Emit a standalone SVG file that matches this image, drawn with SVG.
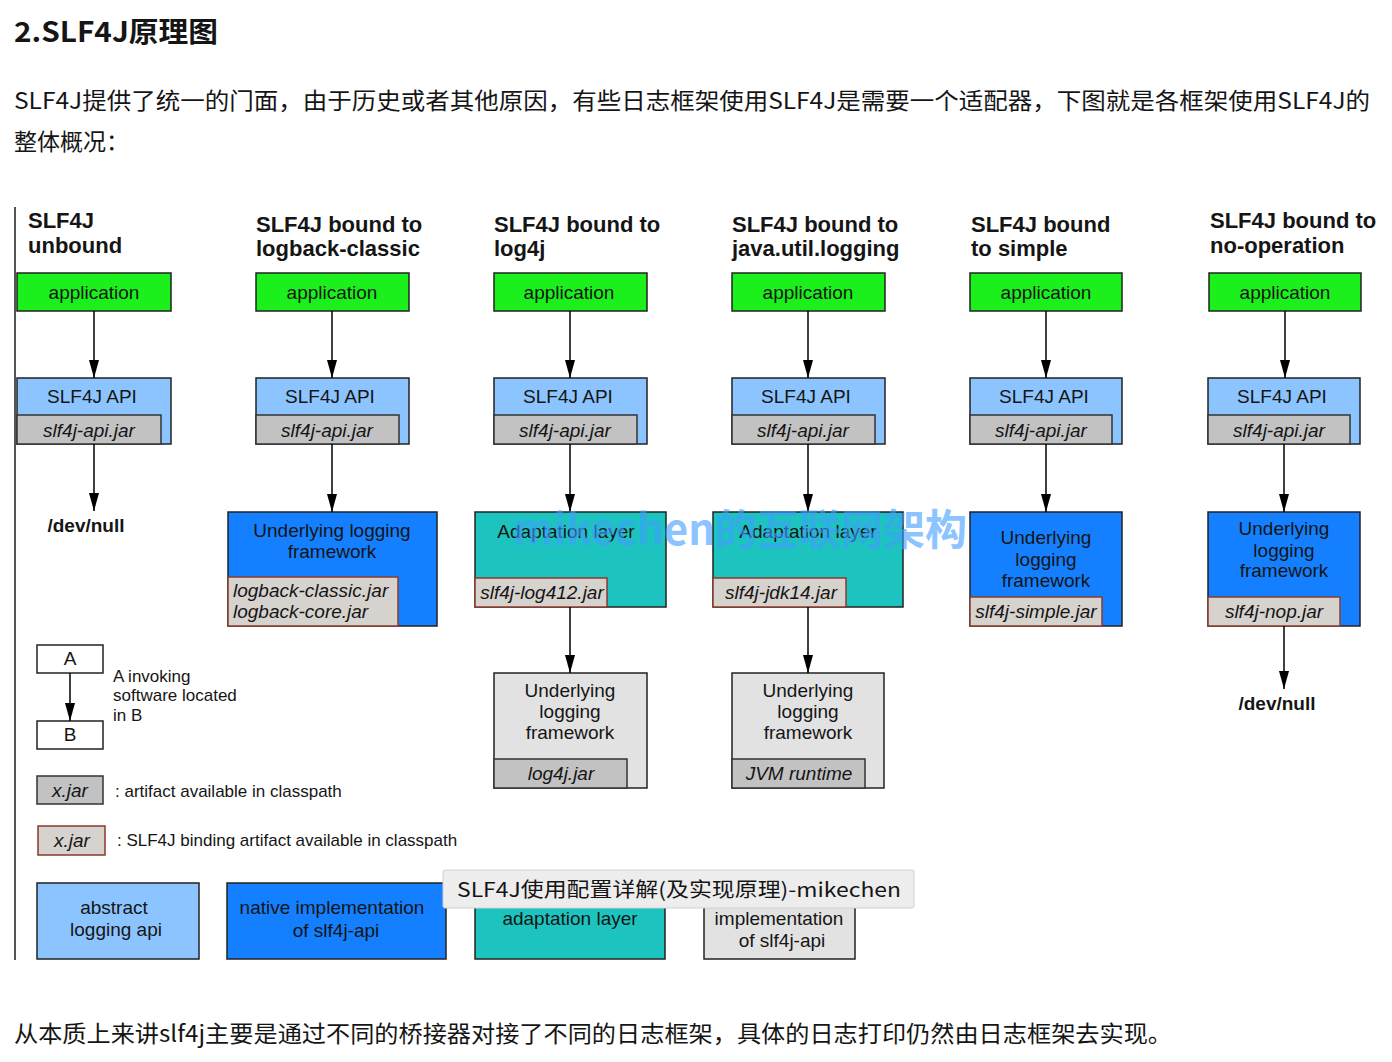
<svg xmlns="http://www.w3.org/2000/svg" width="1392" height="1062" viewBox="0 0 1392 1062">
<defs>
<marker id="ah" viewBox="0 0 18 10" markerWidth="18" markerHeight="10" refX="18" refY="5" orient="auto" markerUnits="userSpaceOnUse">
<path d="M0,0 L18,5 L0,10 z" fill="#000"/>
</marker>
<style>
text{font-family:"Liberation Sans","Noto Sans CJK SC",Arial,sans-serif;fill:#151515}
.cjk{font-family:"Noto Sans CJK SC","Liberation Sans",sans-serif}
.hd{font-size:22px;font-weight:bold}
.t{font-size:19px;text-anchor:middle}
.j{font-size:19px;font-style:italic;text-anchor:middle}
.jl{font-size:19px;font-style:italic}
.lg{font-size:17px}
.box{stroke:#222;stroke-width:1.5}
.app{fill:#1cf01c}
.api{fill:#8cc4ff}
.blue{fill:#1480ff}
.teal{fill:#1dc4bf}
.gray{fill:#e2e2e2}
.jar{fill:#c2c2c2;stroke:#333;stroke-width:1.5}
.bjar{fill:#d6d2ce;stroke:#8a3a2c;stroke-width:1.5}
.dn{font-size:19px;font-weight:bold;text-anchor:middle}
.ln{stroke:#000;stroke-width:1.5;fill:none;marker-end:url(#ah)}
.wm{font-family:"Noto Sans CJK SC","Liberation Sans",sans-serif;font-size:42px;font-weight:bold;fill:#3f9dff;opacity:0.6}
</style>
</defs>
<rect width="1392" height="1062" fill="#fff"/>

<text class="cjk" x="14" y="42" font-size="28" font-weight="bold" textLength="204" lengthAdjust="spacingAndGlyphs">2.SLF4J原理图</text>
<text class="cjk" x="14" y="109" font-size="23" textLength="1356" lengthAdjust="spacingAndGlyphs">SLF4J提供了统一的门面，由于历史或者其他原因，有些日志框架使用SLF4J是需要一个适配器，下图就是各框架使用SLF4J的</text>
<text class="cjk" x="14" y="150" font-size="23">整体概况：</text>

<line x1="15" y1="207" x2="15" y2="960" stroke="#555" stroke-width="2"/>

<!-- headers -->
<g id="headers">
<text class="hd" x="28" y="228">SLF4J</text>
<text class="hd" x="28" y="253">unbound</text>
<text class="hd" x="256" y="232">SLF4J bound to</text>
<text class="hd" x="256" y="256">logback-classic</text>
<text class="hd" x="494" y="232">SLF4J bound to</text>
<text class="hd" x="494" y="256">log4j</text>
<text class="hd" x="732" y="232">SLF4J bound to</text>
<text class="hd" x="732" y="256">java.util.logging</text>
<text class="hd" x="971" y="232">SLF4J bound</text>
<text class="hd" x="971" y="256">to simple</text>
<text class="hd" x="1210" y="228">SLF4J bound to</text>
<text class="hd" x="1210" y="253">no-operation</text>
</g>

<!-- column 1 -->
<g id="c1-app"><rect class="box app" x="17" y="273" width="154" height="38"/><text class="t" x="94" y="299">application</text></g>
<g id="c1-api"><rect class="box api" x="17" y="378" width="154" height="66"/><text class="t" x="92" y="403">SLF4J API</text><rect class="jar" x="17" y="415" width="144" height="29"/><text class="j" x="89" y="437">slf4j-api.jar</text></g>
<g id="c1-null"><text class="dn" x="86" y="532">/dev/null</text></g>

<!-- column 2 -->
<g id="c2-app"><rect class="box app" x="256" y="273" width="153" height="38"/><text class="t" x="332" y="299">application</text></g>
<g id="c2-api"><rect class="box api" x="256" y="378" width="153" height="66"/><text class="t" x="330" y="403">SLF4J API</text><rect class="jar" x="256" y="415" width="143" height="29"/><text class="j" x="327" y="437">slf4j-api.jar</text></g>
<g id="c2-fw"><rect class="box blue" x="228" y="512" width="209" height="114"/><text class="t" x="332" y="537">Underlying logging</text><text class="t" x="332" y="558">framework</text><rect class="bjar" x="228" y="577" width="170" height="49"/><text class="jl" x="233" y="597">logback-classic.jar</text><text class="jl" x="233" y="618">logback-core.jar</text></g>

<!-- column 3 -->
<g id="c3-app"><rect class="box app" x="494" y="273" width="153" height="38"/><text class="t" x="569" y="299">application</text></g>
<g id="c3-api"><rect class="box api" x="494" y="378" width="153" height="66"/><text class="t" x="568" y="403">SLF4J API</text><rect class="jar" x="494" y="415" width="143" height="29"/><text class="j" x="565" y="437">slf4j-api.jar</text></g>
<g id="c3-adapt"><rect class="box teal" x="475" y="512" width="191" height="95"/><text class="t" x="566" y="538">Adaptation layer</text><rect class="bjar" x="475" y="578" width="132" height="29"/><text class="j" x="542" y="599">slf4j-log412.jar</text></g>
<g id="c3-fw"><rect class="box gray" x="494" y="673" width="153" height="115"/><text class="t" x="570" y="697">Underlying</text><text class="t" x="570" y="718">logging</text><text class="t" x="570" y="739">framework</text><rect class="jar" x="494" y="759" width="133" height="29" fill="#b8b8b8"/><text class="j" x="561" y="780">log4j.jar</text></g>

<!-- column 4 -->
<g id="c4-app"><rect class="box app" x="732" y="273" width="153" height="38"/><text class="t" x="808" y="299">application</text></g>
<g id="c4-api"><rect class="box api" x="732" y="378" width="153" height="66"/><text class="t" x="806" y="403">SLF4J API</text><rect class="jar" x="732" y="415" width="143" height="29"/><text class="j" x="803" y="437">slf4j-api.jar</text></g>
<g id="c4-adapt"><rect class="box teal" x="713" y="512" width="190" height="95"/><text class="t" x="808" y="538">Adaptation layer</text><rect class="bjar" x="713" y="578" width="133" height="29"/><text class="j" x="781" y="599">slf4j-jdk14.jar</text></g>
<g id="c4-fw"><rect class="box gray" x="732" y="673" width="152" height="115"/><text class="t" x="808" y="697">Underlying</text><text class="t" x="808" y="718">logging</text><text class="t" x="808" y="739">framework</text><rect class="jar" x="732" y="759" width="133" height="29" fill="#b8b8b8"/><text class="j" x="799" y="780">JVM runtime</text></g>

<!-- column 5 -->
<g id="c5-app"><rect class="box app" x="970" y="273" width="152" height="38"/><text class="t" x="1046" y="299">application</text></g>
<g id="c5-api"><rect class="box api" x="970" y="378" width="152" height="66"/><text class="t" x="1044" y="403">SLF4J API</text><rect class="jar" x="970" y="415" width="142" height="29"/><text class="j" x="1041" y="437">slf4j-api.jar</text></g>
<g id="c5-fw"><rect class="box blue" x="970" y="512" width="152" height="114"/><text class="t" x="1046" y="544">Underlying</text><text class="t" x="1046" y="566">logging</text><text class="t" x="1046" y="587">framework</text><rect class="bjar" x="970" y="597" width="132" height="29"/><text class="j" x="1036" y="618">slf4j-simple.jar</text></g>

<!-- column 6 -->
<g id="c6-app"><rect class="box app" x="1209" y="273" width="152" height="38"/><text class="t" x="1285" y="299">application</text></g>
<g id="c6-api"><rect class="box api" x="1208" y="378" width="152" height="66"/><text class="t" x="1282" y="403">SLF4J API</text><rect class="jar" x="1208" y="415" width="142" height="29"/><text class="j" x="1279" y="437">slf4j-api.jar</text></g>
<g id="c6-fw"><rect class="box blue" x="1208" y="512" width="152" height="114"/><text class="t" x="1284" y="535">Underlying</text><text class="t" x="1284" y="557">logging</text><text class="t" x="1284" y="577">framework</text><rect class="bjar" x="1208" y="597" width="132" height="29"/><text class="j" x="1274" y="618">slf4j-nop.jar</text></g>
<g id="c6-null"><text class="dn" x="1277" y="710">/dev/null</text></g>

<!-- legend -->
<g id="legend-a"><rect x="37" y="645" width="66" height="28" fill="#fff" stroke="#222" stroke-width="1.5"/><text class="t" x="70" y="665">A</text></g>
<g id="legend-b"><rect x="37" y="721" width="66" height="28" fill="#fff" stroke="#222" stroke-width="1.5"/><text class="t" x="70" y="741">B</text></g>
<g id="legend-text"><text class="lg" x="113" y="682">A invoking</text><text class="lg" x="113" y="701">software located</text><text class="lg" x="113" y="721">in B</text></g>
<g id="legend-jar"><rect class="jar" x="37" y="776" width="66" height="28" fill="#b4b4b4"/><text class="j" x="70" y="797">x.jar</text><text class="lg" x="115" y="797">: artifact available in classpath</text></g>
<g id="legend-bjar"><rect class="bjar" x="38" y="826" width="67" height="29" fill="#b8b8b8"/><text class="j" x="72" y="847">x.jar</text><text class="lg" x="117" y="846">: SLF4J binding artifact available in classpath</text></g>

<!-- bottom key -->
<g id="key-abstract"><rect class="box api" x="37" y="883" width="162" height="76"/><text class="t" x="114" y="914">abstract</text><text class="t" x="116" y="936">logging api</text></g>
<g id="key-native"><rect class="box blue" x="227" y="883" width="219" height="76"/><text class="t" x="332" y="914">native implementation</text><text class="t" x="336" y="937">of slf4j-api</text></g>
<g id="key-adapt"><rect class="box teal" x="475" y="883" width="190" height="76"/><text class="t" x="570" y="925">adaptation layer</text></g>
<g id="key-impl"><rect class="box gray" x="704" y="883" width="151" height="76"/><text class="t" x="779" y="925">implementation</text><text class="t" x="782" y="947">of slf4j-api</text></g>

<!-- connectors -->
<g id="connectors">
<line class="ln" x1="94" y1="311" x2="94" y2="378"/>
<line class="ln" x1="94" y1="444" x2="94" y2="511"/>
<line class="ln" x1="332" y1="311" x2="332" y2="378"/>
<line class="ln" x1="332" y1="444" x2="332" y2="512"/>
<line class="ln" x1="570" y1="311" x2="570" y2="378"/>
<line class="ln" x1="570" y1="444" x2="570" y2="512"/>
<line class="ln" x1="570" y1="607" x2="570" y2="673"/>
<line class="ln" x1="808" y1="311" x2="808" y2="378"/>
<line class="ln" x1="808" y1="444" x2="808" y2="512"/>
<line class="ln" x1="808" y1="607" x2="808" y2="673"/>
<line class="ln" x1="1046" y1="311" x2="1046" y2="378"/>
<line class="ln" x1="1046" y1="444" x2="1046" y2="512"/>
<line class="ln" x1="1285" y1="311" x2="1285" y2="378"/>
<line class="ln" x1="1284" y1="444" x2="1284" y2="512"/>
<line class="ln" x1="1284" y1="626" x2="1284" y2="689"/>
<line class="ln" x1="70" y1="673" x2="70" y2="721"/>
</g>

<!-- tooltip overlay -->
<g id="tooltip"><rect x="443" y="870" width="471" height="38" rx="2" fill="#ededed" stroke="#d0d0d0"/><text class="cjk" x="457" y="897" font-size="20" fill="#222" textLength="444" lengthAdjust="spacingAndGlyphs">SLF4J使用配置详解(及实现原理)-mikechen</text></g>

<!-- watermark -->
<text class="wm" x="513" y="545" textLength="454" lengthAdjust="spacingAndGlyphs">mikechen的互联网架构</text>

<text class="cjk" x="14" y="1042" font-size="23" textLength="1158" lengthAdjust="spacingAndGlyphs">从本质上来讲slf4j主要是通过不同的桥接器对接了不同的日志框架，具体的日志打印仍然由日志框架去实现。</text>
</svg>
